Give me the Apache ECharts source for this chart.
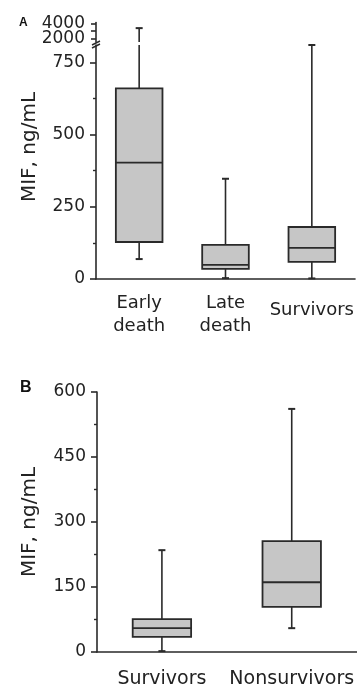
<!DOCTYPE html>
<html lang="en">
<head>
    <meta charset="UTF-8">
    <title>MIF</title>
    <style>
        html, body { margin: 0; padding: 0; background: #fff; }
        #chart { width: 357px; height: 692px; }
    </style>
    <script src="https://cdn.jsdelivr.net/npm/echarts/dist/echarts.min.js"></script>
</head>
<body>
    <div id="chart"></div>
    <script>
        // panel A
        var catsA = ['Early\ndeath', 'Late\ndeath', 'Survivors'];
        var minA = [69, 3, 2];
        var q1A = [128, 35, 59];
        var medA = [403, 49, 108];
        var q3A = [660, 118, 180];
        var maxA = [3350, 347, 810];
        var ticksA = [0, 250, 500, 750];
        var minorA = [125, 375, 625];
        var ticksAUp = [2000, 3000, 4000];
        var topLabelA = [4000];
        var midLabelA = [2000];

        // panel B
        var catsB = ['Survivors', 'Nonsurvivors'];
        var minB = [2, 55];
        var q1B = [35, 104];
        var medB = [55, 161];
        var q3B = [76, 256];
        var maxB = [235, 561];

        var ink = '#2a2a2a';
        var fill = '#c6c6c6';
        var font = 'DejaVu Sans';

        function rows(mn, q1, md, q3, mx) {
            return mn.map(function (v, i) { return [i, v, q1[i], md[i], q3[i], mx[i]]; });
        }

        // box + whiskers, clipped to the grid so a broken axis works
        function boxRender(ratio) {
            return function (params, api) {
                var cs = params.coordSys;
                var top = cs.y, bot = cs.y + cs.height;
                var i = api.value(0);
                var cx = api.coord([i, 0])[0];
                var bw = api.size([1, 0])[0] * ratio;
                var y = [1, 2, 3, 4, 5].map(function (k) { return api.coord([i, api.value(k)])[1]; });
                var inside = function (v) { return v >= top - 0.5 && v <= bot + 0.5; };
                var cl = function (v) { return Math.max(top, Math.min(bot, v)); };
                var kids = [];
                var seg = function (a, b) {
                    var ya = cl(a), yb = cl(b);
                    if (Math.abs(ya - yb) < 0.5) return;
                    kids.push({ type: 'line', shape: { x1: cx, y1: ya, x2: cx, y2: yb },
                        style: { stroke: ink, lineWidth: 1.6 } });
                };
                var cap = function (v) {
                    if (!inside(v)) return;
                    kids.push({ type: 'line', shape: { x1: cx - 3.5, y1: v, x2: cx + 3.5, y2: v },
                        style: { stroke: ink, lineWidth: 2 } });
                };
                seg(y[4], y[3]);
                seg(y[1], y[0]);
                cap(y[4]);
                cap(y[0]);
                var bt = cl(y[3]), bb = cl(y[1]);
                if (bb - bt > 0.5) {
                    kids.push({ type: 'rect', shape: { x: cx - bw / 2, y: bt, width: bw, height: bb - bt },
                        style: { fill: fill, stroke: ink, lineWidth: 1.8 } });
                }
                if (inside(y[2])) {
                    kids.push({ type: 'line', shape: { x1: cx - bw / 2, y1: y[2], x2: cx + bw / 2, y2: y[2] },
                        style: { stroke: ink, lineWidth: 1.8 } });
                }
                return { type: 'group', children: kids };
            };
        }

        var lbl = {
            color: '#222', fontFamily: font, fontSize: 17, margin: 11,
            hideOverlap: false, showMinLabel: true, showMaxLabel: true,
            formatter: function (v) { return String(v); }
        };
        var axLine = { lineStyle: { color: ink, width: 1.6 } };

        var chart = echarts.init(document.getElementById('chart'));
        chart.setOption({
            animation: false,
            backgroundColor: '#fff',
            title: [
                { text: 'A', left: 14, top: 12, textStyle: { fontFamily: 'Liberation Sans', fontWeight: 'bold', fontSize: 12, color: '#111' } },
                { text: 'B', left: 15, top: 375, textStyle: { fontFamily: 'Liberation Sans', fontWeight: 'bold', fontSize: 16, color: '#111' } }
            ],
            grid: [
                { left: 96, top: 22.5, width: 259, height: 19.5 },
                { left: 96, top: 45, width: 259, height: 234 },
                { left: 97, top: 392, width: 260, height: 260 }
            ],
            xAxis: [
                { type: 'category', gridIndex: 0, data: catsA, show: false },
                {
                    type: 'category', gridIndex: 1,
                    data: catsA.map(function (c) {
                        return c.indexOf('\n') < 0 ? { value: c, textStyle: { padding: [7, 0, 0, 0] } } : c;
                    }),
                    axisLine: axLine,
                    axisTick: { alignWithLabel: true, length: 5, lineStyle: { color: ink, width: 1.6 } },
                    axisLabel: { color: '#222', fontFamily: font, fontSize: 18, lineHeight: 23, margin: 13, interval: 0 }
                },
                {
                    type: 'category', gridIndex: 2, data: catsB,
                    axisLine: axLine,
                    axisTick: { alignWithLabel: true, length: 5, lineStyle: { color: ink, width: 1.6 } },
                    axisLabel: { color: '#222', fontFamily: font, fontSize: 19, lineHeight: 22, margin: 16, interval: 0 }
                }
            ],
            yAxis: [
                {
                    type: 'value', gridIndex: 0, min: 1500, max: 4100,
                    splitLine: { show: false },
                    axisLine: { show: true, lineStyle: { color: ink, width: 1.6 } },
                    axisTick: { show: true, length: 5, customValues: ticksAUp, lineStyle: { color: ink, width: 1.6 } },
                    axisLabel: Object.assign({ customValues: topLabelA }, lbl)
                },
                {
                    type: 'value', gridIndex: 1, min: 0, max: 810, interval: 250,
                    splitLine: { show: false },
                    axisLine: { show: true, lineStyle: { color: ink, width: 1.6 } },
                    axisTick: { show: true, length: 6, customValues: ticksA, lineStyle: { color: ink, width: 1.6 } },
                    axisLabel: Object.assign({ customValues: ticksA }, lbl)
                },
                {
                    type: 'value', gridIndex: 1, min: 0, max: 810, position: 'left',
                    splitLine: { show: false },
                    axisLine: { show: false },
                    axisTick: { show: true, length: 3, customValues: minorA, lineStyle: { color: ink, width: 1.4 } },
                    axisLabel: { show: false }
                },
                {
                    type: 'value', gridIndex: 2, min: 0, max: 600, interval: 150,
                    splitLine: { show: false },
                    axisLine: { show: true, lineStyle: { color: ink, width: 1.6 } },
                    axisTick: { show: true, length: 6, lineStyle: { color: ink, width: 1.6 } },
                    minorTick: { show: true, splitNumber: 2, length: 3, lineStyle: { color: ink, width: 1.4 } },
                    axisLabel: lbl
                },
                {
                    type: 'value', gridIndex: 0, min: 1500, max: 4100, position: 'left',
                    splitLine: { show: false },
                    axisLine: { show: false },
                    axisTick: { show: false },
                    axisLabel: Object.assign({ customValues: midLabelA }, lbl)
                }
            ],
            graphic: [
                { type: 'text', x: 30, y: 147, rotation: Math.PI / 2,
                  style: { text: 'MIF, ng/mL', fontFamily: font, fontSize: 20, fill: '#222', align: 'center', verticalAlign: 'middle' } },
                { type: 'text', x: 30, y: 522, rotation: Math.PI / 2,
                  style: { text: 'MIF, ng/mL', fontFamily: font, fontSize: 20, fill: '#222', align: 'center', verticalAlign: 'middle' } },
                { type: 'line', shape: { x1: 92, y1: 45, x2: 100, y2: 41 }, style: { stroke: ink, lineWidth: 1.5 } },
                { type: 'line', shape: { x1: 92, y1: 48, x2: 100, y2: 44 }, style: { stroke: ink, lineWidth: 1.5 } }
            ],
            series: [
                { type: 'custom', xAxisIndex: 0, yAxisIndex: 0, renderItem: boxRender(0.54),
                  data: rows(minA, q1A, medA, q3A, maxA), encode: { x: 0, y: [1, 2, 3, 4, 5] } },
                { type: 'custom', xAxisIndex: 1, yAxisIndex: 1, renderItem: boxRender(0.54),
                  data: rows(minA, q1A, medA, q3A, maxA), encode: { x: 0, y: [1, 2, 3, 4, 5] } },
                { type: 'custom', xAxisIndex: 2, yAxisIndex: 3, renderItem: boxRender(0.45),
                  data: rows(minB, q1B, medB, q3B, maxB), encode: { x: 0, y: [1, 2, 3, 4, 5] } }
            ]
        });
    </script>
</body>
</html>
